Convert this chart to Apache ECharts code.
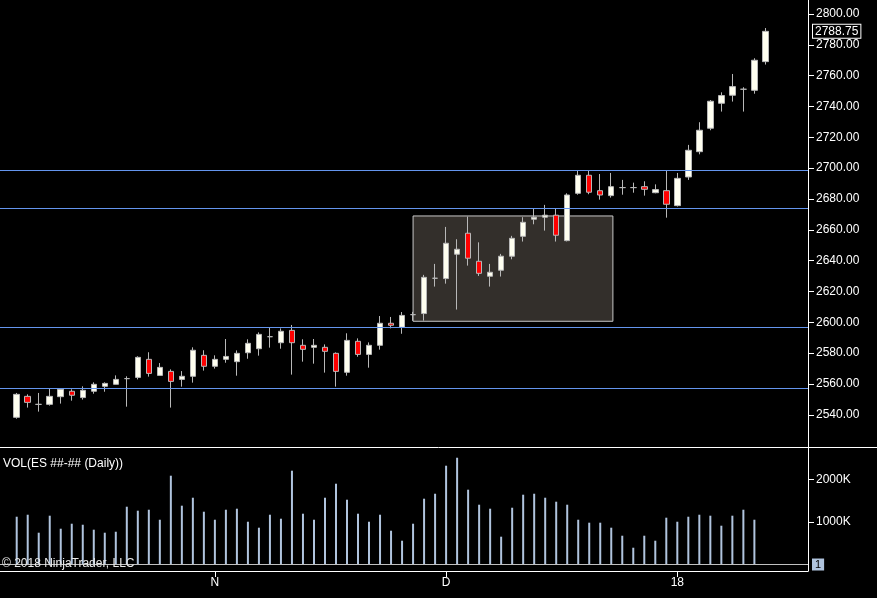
<!DOCTYPE html>
<html lang="en">
<head>
<meta charset="UTF-8">
<title>ES Daily</title>
<script src="https://cdn.jsdelivr.net/npm/echarts@6/dist/echarts.min.js"></script>
<style>
    html, body { margin: 0; padding: 0; background: #000; }
    #main { width: 877px; height: 598px; }
</style>
</head>
<body>
<div id="main"></div>
<script type="text/javascript">
// daily bars, index 0 .. 68
var opens  = [2538.4, 2552.0, 2546.8, 2546.8, 2551.8, 2555.3, 2551.2, 2555.3, 2558.5, 2559.8,
              2563.5, 2564.3, 2576.0, 2565.6, 2568.2, 2563.0, 2565.0, 2578.6, 2571.5, 2576.0,
              2574.5, 2580.3, 2582.9, 2590.7, 2586.8, 2594.8, 2585.1, 2583.8, 2583.8, 2579.9,
              2567.6, 2587.7, 2579.2, 2585.1, 2599.4, 2596.8, 2605.0, 2605.7, 2628.6, 2628.4,
              2644.2, 2657.8, 2639.6, 2629.9, 2633.8, 2642.9, 2655.8, 2666.9, 2668.2, 2669.5,
              2653.0, 2683.7, 2695.4, 2685.4, 2682.2, 2687.4, 2687.4, 2688.0, 2684.1, 2685.4,
              2675.7, 2694.3, 2710.7, 2725.9, 2742.1, 2747.3, 2751.2, 2750.5, 2769.1];
var closes = [2553.3, 2548.1, 2546.8, 2552.0, 2556.6, 2552.7, 2555.9, 2559.8, 2560.4, 2563.0,
              2563.5, 2577.3, 2566.9, 2570.8, 2561.7, 2565.0, 2581.9, 2571.5, 2576.0, 2577.9,
              2579.9, 2586.4, 2592.2, 2590.7, 2594.2, 2586.8, 2582.5, 2585.1, 2581.2, 2568.2,
              2588.3, 2579.2, 2585.1, 2599.4, 2598.1, 2604.5, 2605.0, 2629.2, 2628.6, 2651.3,
              2647.4, 2641.6, 2631.8, 2632.5, 2642.9, 2654.5, 2664.9, 2668.2, 2669.5, 2656.5,
              2682.6, 2695.4, 2684.4, 2682.6, 2688.0, 2687.4, 2687.4, 2686.3, 2686.1, 2676.6,
              2693.4, 2711.6, 2724.6, 2743.4, 2747.1, 2752.9, 2751.2, 2770.0, 2788.75];
var lows   = [2537.5, 2544.7, 2542.1, 2546.0, 2547.3, 2549.2, 2549.9, 2553.7, 2555.0, 2559.8,
              2545.3, 2563.0, 2564.8, 2565.6, 2544.7, 2558.3, 2560.9, 2568.7, 2570.0, 2573.8,
              2565.4, 2576.4, 2578.4, 2583.6, 2582.9, 2566.1, 2574.5, 2573.2, 2567.4, 2558.3,
              2565.4, 2577.7, 2570.6, 2582.3, 2596.1, 2592.6, 2601.0, 2601.1, 2623.2, 2625.1,
              2608.3, 2636.8, 2630.1, 2623.2, 2629.7, 2640.9, 2652.4, 2663.6, 2659.5, 2652.4,
              2652.5, 2682.8, 2683.1, 2679.6, 2680.9, 2682.8, 2684.1, 2682.2, 2683.7, 2667.9,
              2675.1, 2692.4, 2709.0, 2724.6, 2736.7, 2743.2, 2736.7, 2748.3, 2767.2];
var highs  = [2554.2, 2553.3, 2554.2, 2557.0, 2556.6, 2556.6, 2558.5, 2561.1, 2561.1, 2565.6,
              2565.0, 2578.0, 2580.6, 2573.6, 2569.5, 2568.4, 2583.8, 2581.9, 2578.6, 2589.2,
              2581.8, 2589.0, 2593.5, 2596.8, 2596.1, 2598.3, 2589.0, 2589.2, 2585.7, 2580.5,
              2592.9, 2589.6, 2587.0, 2604.1, 2603.5, 2606.7, 2606.8, 2630.8, 2637.9, 2661.9,
              2653.9, 2668.6, 2651.9, 2637.9, 2644.4, 2656.1, 2668.2, 2673.6, 2676.2, 2673.6,
              2683.7, 2698.4, 2698.4, 2696.2, 2696.9, 2692.4, 2690.6, 2691.5, 2689.5, 2698.6,
              2696.9, 2715.1, 2729.8, 2744.2, 2749.2, 2761.1, 2752.5, 2771.3, 2790.9];
// volume in K contracts
var volumes = [1127, 1174, 750, 1151, 844, 962, 938, 821, 750, 773,
               1363, 1269, 1292, 1056, 2094, 1387, 1575, 1245, 1056, 1292,
               1316, 1009, 868, 1174, 1080, 2212, 1198, 1056, 1575, 1905,
               1528, 1198, 1009, 1174, 797, 561, 962, 1552, 1669, 2330,
               2518, 1764, 1410, 1316, 656, 1339, 1646, 1669, 1575, 1481,
               1410, 1056, 986, 986, 868, 679, 396, 679, 561, 1104,
               1009, 1127, 1174, 1151, 915, 1151, 1292, 1056, 0.001];

var dateTickIdx = [18, 39, 60];
var dateTickLabels = ['N', 'D', '18'];
var priceTicks = [2540, 2560, 2580, 2600, 2620, 2640, 2660, 2680, 2700, 2720, 2740, 2760, 2780, 2800];
var volTicks = [1000, 2000];
var levelLines = [2698.6, 2674.0, 2596.8, 2557.2];
var zoneX = [36, 54.15];
var zoneY = [2669.0, 2600.7];
var lastVolume = '1';

var font = 'Liberation Sans, Arial, sans-serif';
var lastClose = closes[closes.length - 1];

var candleData = opens.map(function (o, i) {
    return [i, o, closes[i], lows[i], highs[i]];
});
var volData = volumes.map(function (v, i) {
    return [i, v];
});

var xMin = -1.517, xMax = 71.87;

var option = {
    backgroundColor: '#000',
    animation: false,
    textStyle: { fontFamily: font },
    title: [
        { text: 'VOL(ES ##-## (Daily))', left: 3, top: 458, padding: 0,
          textStyle: { color: '#fff', fontSize: 12, fontWeight: 'normal', fontFamily: font } },
        { text: '\u00a9 2018 NinjaTrader, LLC', left: 2, top: 558, padding: 0,
          textStyle: { color: '#e8e8e8', fontSize: 12, fontWeight: 'normal', fontFamily: font } }
    ],
    grid: [
        { left: 0, right: 69, top: 0, height: 447 },
        { left: 0, right: 69, top: 447, height: 124 }
    ],
    xAxis: [
        { gridIndex: 0, type: 'value', min: xMin, max: xMax, show: false },
        {
            gridIndex: 1, type: 'value', min: xMin, max: xMax,
            splitLine: { show: false },
            axisLine: { show: true, onZero: false, lineStyle: { color: '#fff', width: 1 } },
            axisTick: { show: true, customValues: dateTickIdx, length: 6, lineStyle: { color: '#fff' } },
            axisLabel: {
                customValues: dateTickIdx, color: '#fff', fontSize: 12, margin: 6,
                formatter: function (v) { return dateTickLabels[dateTickIdx.indexOf(v)]; }
            }
        }
    ],
    yAxis: [
        {
            gridIndex: 0, type: 'value', position: 'right', min: 2519.15, max: 2809.08,
            splitLine: { show: false },
            axisLine: { show: true, onZero: false, lineStyle: { color: '#fff', width: 1 } },
            axisTick: { show: true, customValues: priceTicks, length: 6, lineStyle: { color: '#fff' } },
            axisLabel: {
                customValues: priceTicks, color: '#fff', fontSize: 12, margin: 8,
                formatter: function (v) { return v.toFixed(2); }
            }
        },
        {
            gridIndex: 1, type: 'value', position: 'right', min: -153, max: 2771,
            splitLine: { show: false },
            axisLine: { show: true, onZero: false, lineStyle: { color: '#fff', width: 1 } },
            axisTick: { show: true, customValues: volTicks, length: 6, lineStyle: { color: '#fff' } },
            axisLabel: {
                customValues: volTicks, color: '#fff', fontSize: 12, margin: 8,
                formatter: function (v) { return v + 'K'; }
            }
        }
    ],
    graphic: [
        { type: 'line', z: 10, shape: { x1: 0, y1: 447.5, x2: 877, y2: 447.5 },
          style: { stroke: '#fff', lineWidth: 1 } }
    ],
    series: [
        {
            type: 'candlestick',
            xAxisIndex: 0, yAxisIndex: 0,
            barWidth: 6,
            data: candleData,
            itemStyle: {
                color: '#FFFFF0', color0: '#FF0000',
                borderColor: '#b8b8b8', borderColor0: '#b8b8b8', borderColorDoji: '#b8b8b8',
                borderWidth: 1
            },
            markArea: {
                silent: true,
                itemStyle: { color: '#332f2b', borderColor: '#c8c8c8', borderWidth: 1 },
                data: [[{ xAxis: zoneX[0], yAxis: zoneY[0] }, { xAxis: zoneX[1], yAxis: zoneY[1] }]]
            },
            markLine: {
                silent: true,
                symbol: ['none', 'none'],
                label: { show: false },
                lineStyle: { color: '#6495ED', width: 1, type: 'solid' },
                data: levelLines.map(function (v) { return { yAxis: v }; }).concat([{
                    yAxis: lastClose,
                    lineStyle: { color: 'rgba(0,0,0,0)' },
                    label: {
                        show: true, position: 'end', distance: 5,
                        formatter: lastClose.toFixed(2),
                        color: '#fff', fontSize: 12, fontFamily: font,
                        backgroundColor: '#000', borderColor: '#fff', borderWidth: 1,
                        padding: [1, 2, 0, 2]
                    }
                }])
            }
        },
        {
            type: 'bar',
            xAxisIndex: 1, yAxisIndex: 1,
            barWidth: 2,
            data: volData,
            itemStyle: { color: '#b0c4de' },
            markLine: {
                silent: true,
                symbol: ['none', 'none'],
                lineStyle: { color: '#c0c0c0', width: 1, type: 'solid' },
                data: [{ yAxis: 0 }],
                label: {
                    show: true, position: 'end', distance: 4,
                    formatter: lastVolume,
                    color: '#000', fontSize: 11, fontFamily: font,
                    backgroundColor: '#b0c4de', padding: [1, 3, 0, 3]
                }
            }
        }
    ]
};

var myChart = echarts.init(document.getElementById('main'));
myChart.setOption(option);
</script>
</body>
</html>
